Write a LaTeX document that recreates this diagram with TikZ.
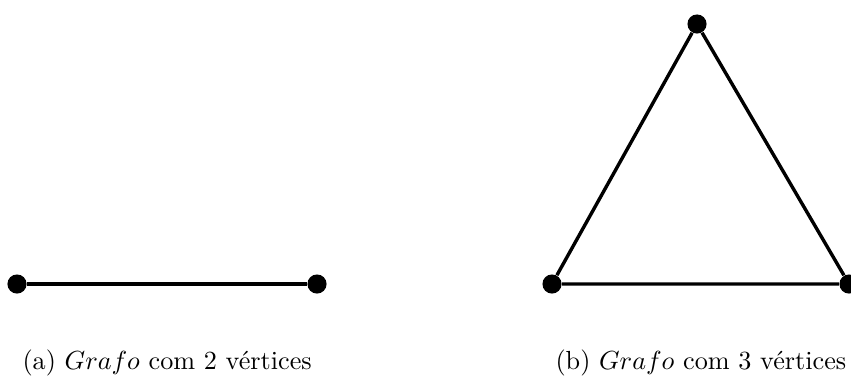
\documentclass[tikz,border=0pt]{standalone}
\usepackage{tikz}
\usetikzlibrary{positioning}
\tikzset{
    vertice/.style={circle, fill=black, inner sep=0pt, minimum size=7.3pt},
    aresta/.style={line width=1.3pt},
    legenda/.style={anchor=base west, inner sep=0pt}
}

\begin{document}
\begin{tikzpicture}[x=0.382pt, y=-0.382pt]
            \useasboundingbox (0,0) rectangle (851,378);
            % grafo com 2 vertices
            \node[vertice] (a1) at (17,284) {};
            \node[vertice] (a2) at (317,284) {};
            \draw[aresta] (a1) -- (a2);
            \node[legenda] (legA) at (22,369) {(a) $Grafo$ com 2 vértices};
            % grafo com 3 vertices
            \node[vertice] (b1) at (552,284) {};
            \node[vertice] (b2) at (697,24) {};
            \node[vertice] (b3) at (849,284) {};
            \draw[aresta] (b1) -- (b2) -- (b3) -- (b1);
            \node[legenda] (legB) at (555,369) {(b) $Grafo$ com 3 vértices};
        \end{tikzpicture}
\end{document}
